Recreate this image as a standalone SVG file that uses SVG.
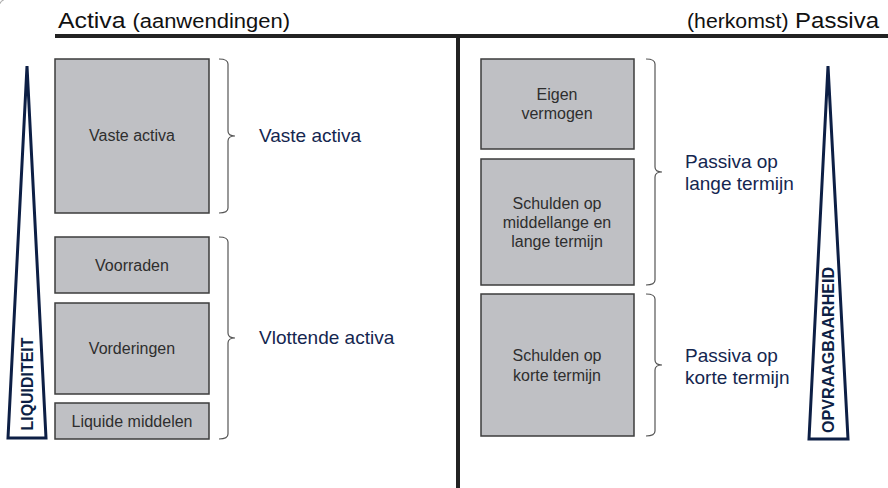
<svg xmlns="http://www.w3.org/2000/svg" width="888" height="488" viewBox="0 0 888 488">
<style>
.box{fill:#bfc0c4;stroke:#3d3d3d;stroke-width:1.5}
.bt{font-family:"Liberation Sans",Arial,sans-serif;font-size:16px;fill:#2e2e2e;text-anchor:middle}
.lbl{font-family:"Liberation Sans",Arial,sans-serif;font-size:19px;fill:#14264f}
.brace{fill:none;stroke:#555;stroke-width:1.2}
.tri{fill:#fff;stroke:#0d1f45;stroke-width:3;stroke-linejoin:miter}
.tt{font-family:"Liberation Sans",Arial,sans-serif;font-size:16px;font-weight:bold;fill:#0d1f45;text-anchor:middle}
.hd{font-family:"Liberation Sans",Arial,sans-serif;fill:#111}
</style>
<rect width="888" height="488" fill="#fff"/>
<path d="M0 4 Q0 0 4 0 L3 1 Q1 1 1 3 Z" fill="#999"/>
<g id="header">
<text class="hd" x="58" y="28" font-size="22" textLength="232" lengthAdjust="spacingAndGlyphs">Activa <tspan font-size="19.5">(aanwendingen)</tspan></text>
<text class="hd" x="687" y="28" font-size="22" textLength="192" lengthAdjust="spacingAndGlyphs"><tspan font-size="19.5">(herkomst)</tspan> Passiva</text>
<rect x="55" y="34" width="833" height="4" fill="#222"/>
<rect x="456" y="36" width="4" height="452" fill="#222"/>
</g>
<g id="liquiditeit">
<polygon class="tri" points="27,66 46,438 8,438"/>
<text class="tt" transform="translate(33,384) rotate(-90)" textLength="93" lengthAdjust="spacingAndGlyphs">LIQUIDITEIT</text>
</g>
<g id="opvraagbaarheid">
<polygon class="tri" points="828,66 848,439 809,439"/>
<text class="tt" transform="translate(834,350) rotate(-90)" textLength="166" lengthAdjust="spacingAndGlyphs">OPVRAAGBAARHEID</text>
</g>
<g id="vaste-activa-box"><rect class="box" x="55" y="59" width="154" height="154"/><text class="bt" x="132" y="141">Vaste activa</text></g>
<g id="voorraden"><rect class="box" x="55" y="237" width="154" height="56"/><text class="bt" x="132" y="271">Voorraden</text></g>
<g id="vorderingen"><rect class="box" x="55" y="303" width="154" height="91"/><text class="bt" x="132" y="354">Vorderingen</text></g>
<g id="liquide-middelen"><rect class="box" x="55" y="403" width="154" height="36"/><text class="bt" x="132" y="427">Liquide middelen</text></g>
<g id="eigen-vermogen"><rect class="box" x="481" y="59" width="153" height="90"/><text class="bt" x="557" y="100">Eigen</text><text class="bt" x="557" y="119">vermogen</text></g>
<g id="schulden-lang"><rect class="box" x="481" y="159" width="153" height="126"/><text class="bt" x="557" y="209">Schulden op</text><text class="bt" x="557" y="228">middellange en</text><text class="bt" x="557" y="247">lange termijn</text></g>
<g id="schulden-kort"><rect class="box" x="481" y="294" width="153" height="142"/><text class="bt" x="557" y="361">Schulden op</text><text class="bt" x="557" y="381">korte termijn</text></g>
<g id="connectors">
<path class="brace" d="M219 59 Q228 59 228 64 L228 131 Q228 136 235 136 Q228 136 228 141 L228 208 Q228 213 219 213"/>
<path class="brace" d="M219 237 Q228 237 228 242 L228 333 Q228 338 235 338 Q228 338 228 343 L228 434 Q228 439 219 439"/>
<path class="brace" d="M646 59 Q655 59 655 64 L655 167 Q655 172 662 172 Q655 172 655 177 L655 280 Q655 285 646 285"/>
<path class="brace" d="M646 294 Q655 294 655 299 L655 360 Q655 365 662 365 Q655 365 655 370 L655 431 Q655 436 646 436"/>
</g>
<g id="labels">
<text class="lbl" x="259" y="142">Vaste activa</text>
<text class="lbl" x="259" y="344">Vlottende activa</text>
<text class="lbl" x="685" y="168">Passiva op</text>
<text class="lbl" x="685" y="190">lange termijn</text>
<text class="lbl" x="685" y="362">Passiva op</text>
<text class="lbl" x="685" y="384">korte termijn</text>
</g>
</svg>
